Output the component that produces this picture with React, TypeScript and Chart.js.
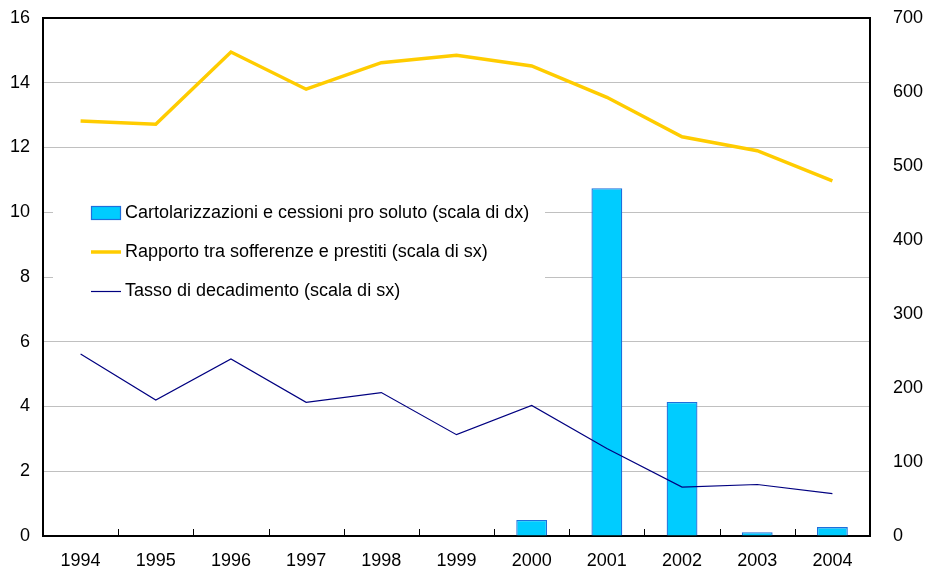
import React, { useEffect, useRef } from "react";
import { Chart, registerables } from "chart.js";

Chart.register(...registerables);

const years = ["1994", "1995", "1996", "1997", "1998", "1999", "2000", "2001", "2002", "2003", "2004"];
const cartolarizzazioni = [0, 0, 0, 0, 0, 0, 21.6, 470, 181, 5, 12];
const rapportoSofferenze = [12.82, 12.72, 14.95, 13.8, 14.62, 14.85, 14.52, 13.55, 12.33, 11.9, 10.97];
const tassoDecadimento = [5.62, 4.2, 5.47, 4.13, 4.43, 3.13, 4.03, 2.7, 1.51, 1.59, 1.31];

const labelBar = "Cartolarizzazioni e cessioni pro soluto (scala di dx)";
const labelYellow = "Rapporto tra sofferenze e prestiti (scala di sx)";
const labelNavy = "Tasso di decadimento (scala di sx)";

const FONT = "Arial, 'Liberation Sans', sans-serif";
const FS = 18;

const framePlugin = {
  id: "frameAndLegend",
  afterDatasetsDraw(chart: any) {
    const { ctx, chartArea } = chart;
    const { left, right, top, bottom } = chartArea;
    ctx.save();
    ctx.strokeStyle = "#000000";
    ctx.lineWidth = 2;
    ctx.beginPath();
    ctx.moveTo(left, top);
    ctx.lineTo(right, top);
    ctx.stroke();
    const n = chart.data.labels.length;
    const w = (right - left) / n;
    ctx.lineWidth = 1;
    ctx.beginPath();
    for (let i = 1; i < n; i++) {
      const x = Math.round(left + i * w) + 0.5;
      ctx.moveTo(x, bottom);
      ctx.lineTo(x, bottom - 7);
    }
    ctx.stroke();

    // legend
    const ds = chart.data.datasets;
    const bx = left + 10;
    const by = top + 172;
    ctx.fillStyle = "#ffffff";
    ctx.fillRect(bx, by, 492, 126);
    const sx = left + 48;
    const tx = left + 82;
    const rows = [top + 195, top + 234, top + 273];
    ctx.font = FS + "px " + FONT;
    ctx.textBaseline = "middle";
    ctx.textAlign = "left";
    ctx.fillStyle = ds[0].backgroundColor;
    ctx.fillRect(sx, rows[0] - 7, 30, 14);
    ctx.strokeStyle = ds[0].borderColor;
    ctx.lineWidth = 1.2;
    ctx.strokeRect(sx + 0.5, rows[0] - 6.5, 29, 13);
    ctx.fillStyle = "#000000";
    ctx.fillText(ds[0].label, tx, rows[0]);
    ctx.strokeStyle = ds[1].borderColor;
    ctx.lineWidth = ds[1].borderWidth;
    ctx.beginPath();
    ctx.moveTo(sx, rows[1]);
    ctx.lineTo(sx + 30, rows[1]);
    ctx.stroke();
    ctx.fillText(ds[1].label, tx, rows[1]);
    ctx.strokeStyle = ds[2].borderColor;
    ctx.lineWidth = ds[2].borderWidth;
    ctx.beginPath();
    ctx.moveTo(sx, rows[2] + 0.5);
    ctx.lineTo(sx + 30, rows[2] + 0.5);
    ctx.stroke();
    ctx.fillText(ds[2].label, tx, rows[2]);
    ctx.restore();
  },
};

export default function App() {
  const ref = useRef<HTMLCanvasElement | null>(null);
  useEffect(() => {
    if (!ref.current) return;
    const chart = new Chart(ref.current, {
      type: "bar",
      data: {
        labels: years,
        datasets: [
          {
            type: "bar",
            label: labelBar,
            data: cartolarizzazioni,
            yAxisID: "y1",
            backgroundColor: "#00CCFF",
            borderColor: "#1E6FDC",
            borderWidth: 1.3,
            barPercentage: 0.41,
            categoryPercentage: 1,
            order: 3,
          } as any,
          {
            type: "line",
            label: labelYellow,
            data: rapportoSofferenze,
            yAxisID: "y",
            borderColor: "#FFCC00",
            backgroundColor: "#FFCC00",
            borderWidth: 3.5,
            pointRadius: 0,
            tension: 0,
            order: 2,
          } as any,
          {
            type: "line",
            label: labelNavy,
            data: tassoDecadimento,
            yAxisID: "y",
            borderColor: "#000080",
            backgroundColor: "#000080",
            borderWidth: 1.2,
            pointRadius: 0,
            tension: 0,
            order: 1,
          } as any,
        ],
      },
      options: {
        responsive: false,
        animation: false,
        layout: { padding: { top: 18, left: 0, right: 0, bottom: 0 } },
        plugins: { legend: { display: false }, tooltip: { enabled: false } },
        scales: {
          x: {
            offset: true,
            grid: { display: false },
            border: { display: true, color: "#000000", width: 2 },
            ticks: { color: "#000000", font: { size: FS, family: FONT }, padding: 6, maxRotation: 0 },
            afterFit: (s: any) => { s.height = 33; },
          },
          y: {
            position: "left",
            min: 0,
            max: 16,
            ticks: { stepSize: 2, color: "#000000", font: { size: FS, family: FONT }, padding: 13 },
            grid: { color: "#C0C0C0", lineWidth: 1, drawTicks: false },
            border: { display: true, color: "#000000", width: 2 },
            afterFit: (s: any) => { s.width = 43; s.paddingTop = 0; s.paddingBottom = 0; },
          },
          y1: {
            position: "right",
            min: 0,
            max: 700,
            ticks: { stepSize: 100, color: "#000000", font: { size: FS, family: FONT }, padding: 23 },
            grid: { drawOnChartArea: false, drawTicks: false },
            border: { display: true, color: "#000000", width: 2 },
            afterFit: (s: any) => { s.width = 60; s.paddingTop = 0; s.paddingBottom = 0; },
          },
        },
      },
      plugins: [framePlugin],
    });
    return () => chart.destroy();
  }, []);
  return (
    <div style={{ position: "fixed", left: 0, top: 0, width: 930, height: 569, background: "#fff" }}>
      <canvas ref={ref} width={930} height={569} />
    </div>
  );
}
